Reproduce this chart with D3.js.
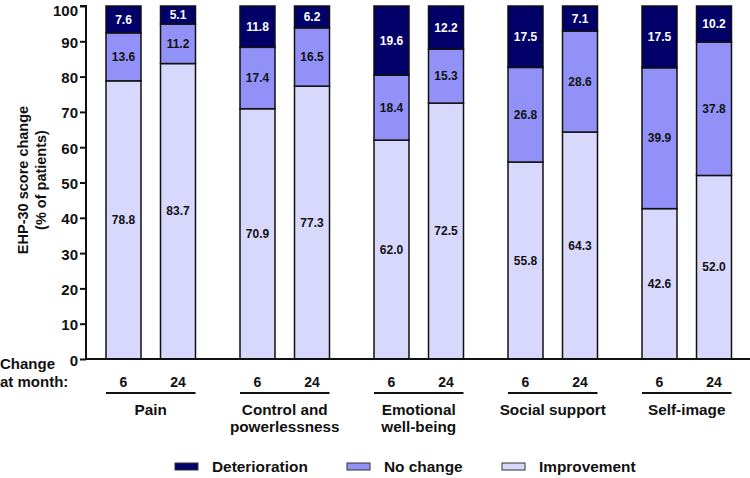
<!DOCTYPE html>
<html><head><meta charset="utf-8">
<script src="https://cdn.jsdelivr.net/npm/d3@7"></script>
<style>body{margin:0;background:#fff}svg{display:block;font-family:Arial,"Liberation Sans",sans-serif;font-weight:bold}</style>
</head><body><svg id="c" width="750" height="478"></svg>
<script>
const groups = ["Pain", "Control and powerlessness", "Emotional well-being", "Social support", "Self-image"];
const groupLines = [["Pain"], ["Control and", "powerlessness"], ["Emotional", "well-being"], ["Social support"], ["Self-image"]];
const months = ["6", "24"];
const seriesNames = ["Improvement", "No change", "Deterioration"];
const improvement = [78.8, 83.7, 70.9, 77.3, 62.0, 72.5, 55.8, 64.3, 42.6, 52.0];
const noChange = [13.6, 11.2, 17.4, 16.5, 18.4, 15.3, 26.8, 28.6, 39.9, 37.8];
const deterioration = [7.6, 5.1, 11.8, 6.2, 19.6, 12.2, 17.5, 7.1, 17.5, 10.2];
const yTicks = [0, 10, 20, 30, 40, 50, 60, 70, 80, 90, 100];
const colors = {"Improvement": "#d8d8fd", "No change": "#9191f7", "Deterioration": "#000068"};
const legendOrder = ["Deterioration", "No change", "Improvement"];

const rows = [];
groups.forEach((g, gi) => months.forEach((m, mi) => {
  const i = gi * 2 + mi;
  rows.push({group: g, month: m, "Improvement": improvement[i], "No change": noChange[i], "Deterioration": deterioration[i]});
}));

const svg = d3.select("#c");
const y = d3.scaleLinear().domain([0, 100]).range([359, 6]);
const xG = d3.scaleBand().domain(groups).range([83, 753]);
const xM = d3.scaleBand().domain(months).range([23, 112.5]).paddingInner(0.358).paddingOuter(0);

const stack = d3.stack().keys(seriesNames)(rows);

const g = svg.append("g");
stack.forEach(layer => {
  const key = layer.key;
  layer.forEach(d => {
    const x0 = xG(d.data.group) + xM(d.data.month);
    const top = Math.min(d[1], 100);
    g.append("rect")
      .attr("x", x0).attr("width", xM.bandwidth())
      .attr("y", y(top)).attr("height", y(d[0]) - y(top))
      .attr("fill", colors[key]).attr("stroke", "#111").attr("stroke-width", 1.5);
    g.append("text")
      .attr("x", x0 + xM.bandwidth() / 2)
      .attr("y", y((d[0] + top) / 2))
      .attr("dy", "0.35em").attr("text-anchor", "middle")
      .attr("font-size", 12)
      .attr("fill", key === "Deterioration" ? "#fff" : "#111")
      .text(d.data[key].toFixed(1));
  });
});

// y axis
const yAxis = d3.axisLeft(y).tickValues(yTicks).tickSize(6).tickPadding(2);
const ya = svg.append("g").attr("transform", "translate(86,0)").call(yAxis);
ya.select(".domain").attr("stroke", "#111").attr("stroke-width", 2).attr("d", "M-6,6H0V359");
ya.selectAll(".tick line").attr("stroke", "#111").attr("stroke-width", 2);
ya.selectAll(".tick text").attr("font-size", 15).attr("fill", "#111").attr("font-family", "Arial, Liberation Sans, sans-serif").attr("font-weight", "bold").attr("dy", "0.4em");
ya.selectAll(".tick text").filter(d => d === 100).attr("dy", "0.62em");

// x axis line
svg.append("line").attr("x1", 85).attr("x2", 750).attr("y1", 359).attr("y2", 359)
  .attr("stroke", "#111").attr("stroke-width", 2);

// y title
const yt = svg.append("text").attr("transform", "translate(0,180) rotate(-90)")
  .attr("text-anchor", "middle").attr("font-size", 14.5).attr("fill", "#111");
yt.append("tspan").attr("x", 0).attr("y", 28).text("EHP-30 score change");
yt.append("tspan").attr("x", 0).attr("y", 46).text("(% of patients)");

// change at month
svg.append("text").attr("x", 0).attr("y", 369).attr("font-size", 15).attr("fill", "#111").text("Change");
svg.append("text").attr("x", 0).attr("y", 387).attr("font-size", 15).attr("fill", "#111").text("at month:");

groups.forEach((grp, gi) => {
  months.forEach(m => {
    svg.append("text").attr("x", xG(grp) + xM(m) + xM.bandwidth() / 2).attr("y", 387)
      .attr("text-anchor", "middle").attr("font-size", 14).attr("fill", "#111").text(m);
  });
  const xl = xG(grp) + xM(months[0]);
  const xr = xG(grp) + xM(months[1]) + xM.bandwidth();
  svg.append("line").attr("x1", xl).attr("x2", xr).attr("y1", 393).attr("y2", 393)
    .attr("stroke", "#111").attr("stroke-width", 2);
  const t = svg.append("text").attr("text-anchor", "middle").attr("font-size", 15.3).attr("fill", "#111");
  groupLines[gi].forEach((ln, li) => {
    t.append("tspan").attr("x", (xl + xr) / 2).attr("y", 415 + li * 17).text(ln);
  });
});

// legend
const legX = [175, 347, 502];
legendOrder.forEach((k, i) => {
  svg.append("rect").attr("x", legX[i]).attr("y", 463).attr("width", 23).attr("height", 7)
    .attr("fill", colors[k]).attr("stroke", "#333").attr("stroke-width", 1);
  svg.append("text").attr("x", legX[i] + 37).attr("y", 472).attr("font-size", 15.4).attr("fill", "#111").text(k);
});
</script></body></html>
